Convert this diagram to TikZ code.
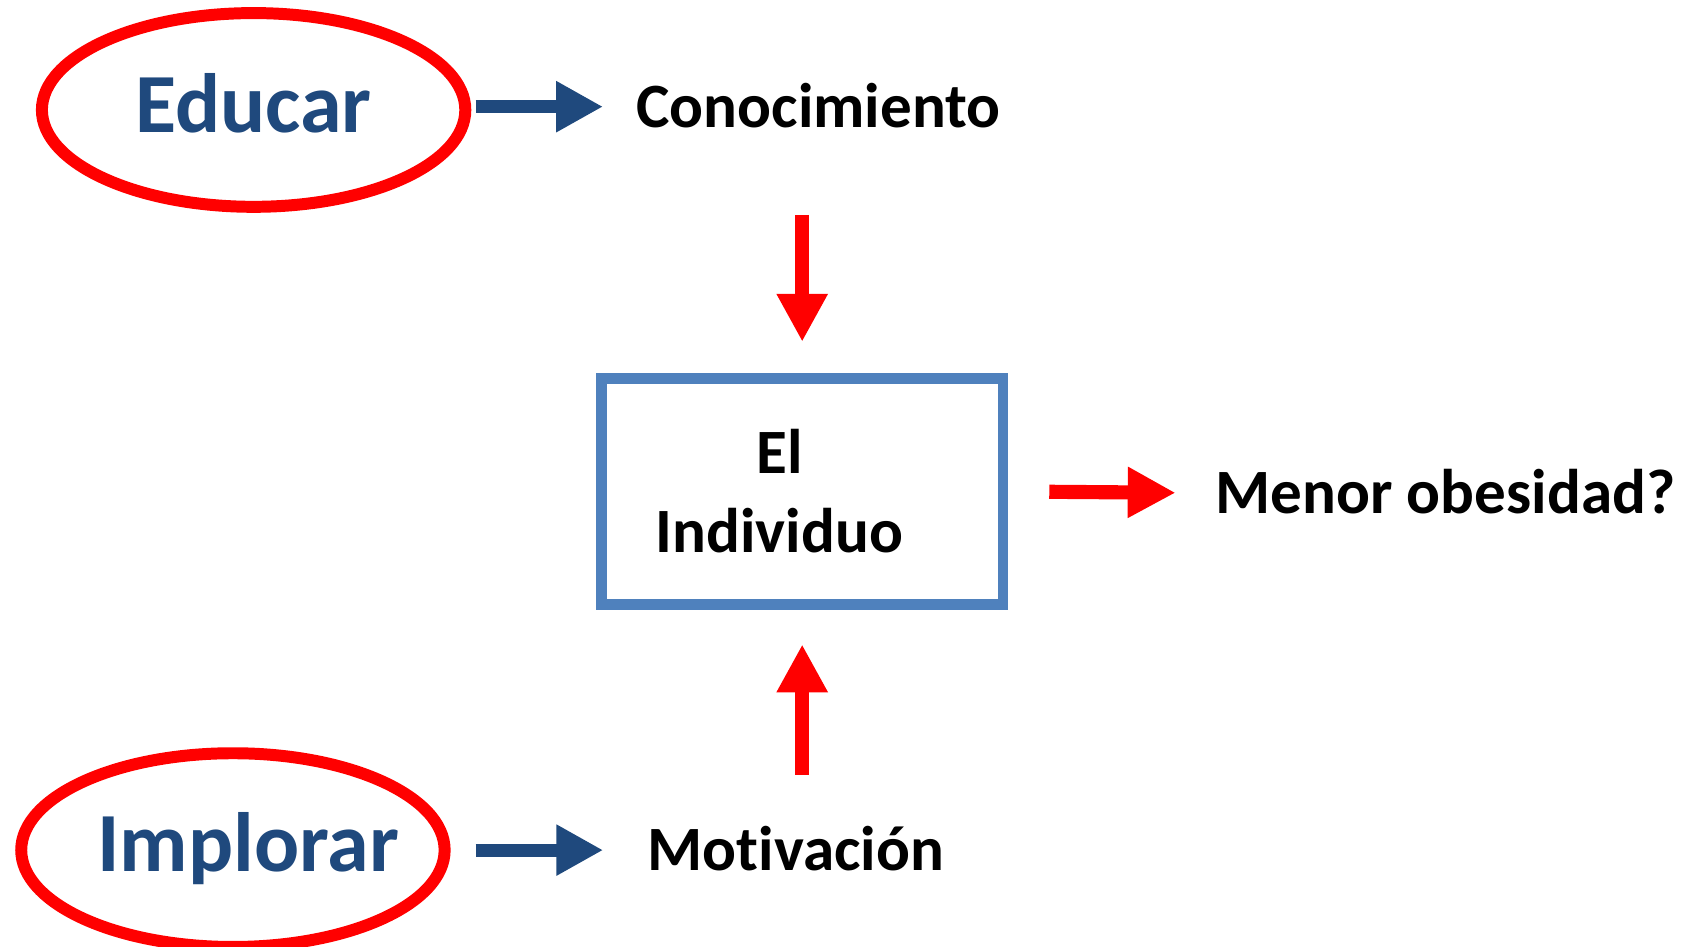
\documentclass[tikz,border=0pt]{standalone}
\usepackage{fontspec}
\setmainfont{Carlito}[Ligatures=NoCommon]
\usetikzlibrary{shapes.geometric,arrows.meta}
\definecolor{ovalred}{HTML}{FF0000}
\definecolor{navy}{HTML}{1F497D}
\definecolor{steel}{HTML}{4F81BD}
\tikzset{
  bigtxt/.style={inner sep=0pt,text=navy,font=\fontsize{22}{26}\selectfont\bfseries,text height=4.2mm,text depth=0pt},
  oval/.style={draw=ovalred,ellipse,line width=1.1mm,minimum width=38.9mm,minimum height=17.8mm,bigtxt},
  lbl/.style={inner sep=0pt,font=\fontsize{16.5}{20}\selectfont\bfseries,text height=3.75mm,text depth=0pt},
  ibox/.style={draw=steel,line width=1mm,minimum width=36.9mm,minimum height=20.7mm,inner sep=0pt},
  blarrow/.style={draw=navy,line width=1.2mm,-{Triangle[length=4.3mm,width=4.4mm]}},
  rdarrow/.style={draw=ovalred,line width=1.3mm,-{Triangle[length=4.4mm,width=4.4mm]}}
}
\begin{document}
\begin{tikzpicture}[x=0.1mm,y=-0.1mm]
      \useasboundingbox (0,0) rectangle (1560,870);
      \node[oval] (educar) at (233,101) {Educar};
      \node[oval,label={[bigtxt,text height=4mm,xshift=1.4mm]center:Implorar}] (implorar) at (214,781) {};
      \node[lbl] (conoc) at (752,98) {Conocimiento};
      \node[lbl] (motiv) at (731,781) {Motivación};
      \node[lbl] (menor) at (1328,453) {Menor obesidad?};
      \node[ibox] (box) at (737,451.5) {};
      \node[lbl,anchor=base] (el) at (716,435) {El};
      \node[lbl,anchor=base] (indiv) at (716,508) {Individuo};
      \path[blarrow,shorten <=0.4mm,shorten >=3mm] (educar.east |- conoc.west) -- (conoc.west);
      \path[blarrow,shorten <=2.3mm,shorten >=4mm] (implorar.east |- motiv.west) -- (motiv.west);
      \path[rdarrow,shorten <=8mm,shorten >=2.9mm] (box.north |- conoc.south) -- (box.north);
      \path[rdarrow,shorten <=5mm,shorten >=3.2mm] (box.south |- motiv.north) -- (box.south);
      \path[rdarrow,shorten <=3.75mm,shorten >=3.6mm] (box.east) -- (menor.west);
    \end{tikzpicture}
\end{document}
